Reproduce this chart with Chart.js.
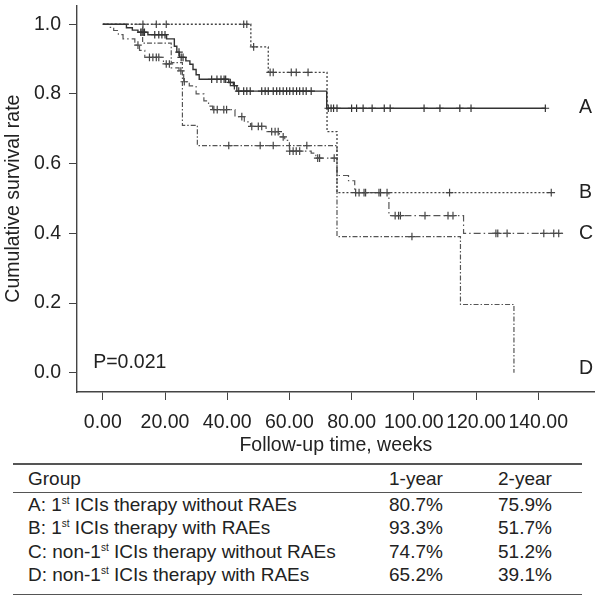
<!DOCTYPE html>
<html>
<head>
<meta charset="utf-8">
<script src="https://cdn.jsdelivr.net/npm/chart.js@4.4.0/dist/chart.umd.min.js"></script>
<style>
    body { margin: 0; background: #fff; font-family: "Liberation Sans", Arial, sans-serif; color: #222; }
    #wrap { position: relative; width: 600px; height: 609px; overflow: hidden; }
    #chartBox { position: absolute; left: 0; top: 0; width: 600px; height: 460px; }
    #survTable { position: absolute; left: 13px; top: 463px; width: 569px; border-collapse: collapse; font-size: 19px; }
    #survTable th { font-weight: normal; text-align: left; height: 27px; padding: 0; border-top: 2px solid #555; border-bottom: 1.5px solid #555; }
    #survTable td { height: 23.5px; padding: 0; }
    #survTable tr:last-child td { border-bottom: 1.5px solid #555; height: 30px; vertical-align: top; padding-top: 0; }
    #survTable .c0 { padding-left: 15px; width: 361px; }
    #survTable .c1 { width: 109px; }
    sup { font-size: 10px; vertical-align: 7px; line-height: 0; }
</style>
</head>
<body>
<div id="wrap">
    <div id="chartBox"><canvas id="kmChart"></canvas></div>
    <table id="survTable">
        <thead><tr><th class="c0">Group</th><th class="c1">1-year</th><th>2-year</th></tr></thead>
        <tbody id="survRows"></tbody>
    </table>
</div>
<script>
/* Kaplan-Meier data (weeks, survival) */
const timeA = [0, 7.6, 9.5, 11.3, 14.5, 20.5, 23, 23.8, 24.6, 26.7, 28, 29, 30, 31, 40.5, 42, 43.1, 72, 142.3];
const survA = [1, 0.99, 0.983, 0.977, 0.97, 0.958, 0.937, 0.92, 0.905, 0.895, 0.885, 0.87, 0.855, 0.842, 0.833, 0.824, 0.808, 0.759, 0.759];
const censA = [12.2, 12.6, 13, 13.4, 16.7, 18, 19, 20, 24.5, 25.2, 25.8, 35, 36.7, 38, 39, 39.5, 41, 42.3,
    43.7, 45.3, 46.3, 47.4, 51.1, 52.2, 53.2, 54.8, 55.9, 56.9, 58, 59.1, 60.1, 61.2, 62.3, 63.3, 64.4, 65.4, 67,
    72.5, 73.4, 74.2, 75.3, 80, 81.6, 83.7, 86.6, 90.5, 92.4, 103.3, 108.4, 114.8, 118.4, 142.3];

const timeB = [0, 47.6, 53.2, 72.1, 75.3, 144.2];
const survB = [1, 0.935, 0.862, 0.692, 0.517, 0.517];
const censB = [12.9, 17.2, 20.4, 45.3, 46.3, 48.5, 53.8, 54.8, 60.6, 62.2, 66, 81.3, 82.4, 84, 84.5, 88.8, 89.3, 91.4, 111.5, 144.2];

const timeC = [0, 2, 3.5, 5, 6.5, 10.3, 11.8, 13.5, 19.5, 22, 24.5, 26, 27.8, 30, 32.5, 34, 35.3, 42.5, 45.5, 47.5,
    52.5, 56.8, 58.5, 60, 67, 68.5, 75.3, 79, 81, 92, 116, 148];
const survC = [1, 0.991, 0.982, 0.97, 0.958, 0.94, 0.925, 0.905, 0.886, 0.875, 0.866, 0.835, 0.823, 0.8, 0.78, 0.765, 0.755, 0.735, 0.72, 0.707,
    0.692, 0.677, 0.667, 0.636, 0.63, 0.616, 0.566, 0.551, 0.517, 0.451, 0.4, 0.4];
const censC = [11.3, 15, 16.1, 17.2, 18, 20.4, 21.4, 25.1, 26.2, 35.7, 36.8, 38.9, 39.8, 44.7, 47.9, 50, 51.1, 54.3, 55.4, 56.4, 58,
    60.1, 61.2, 62.2, 63.3, 69.1, 69.7, 74.4, 94, 95.1, 95.7, 103.6, 111, 112.6, 126.4, 127, 130, 141.8, 145, 146.6];

const timeD = [0, 12.8, 22, 25.6, 30.4, 75.3, 115, 132.2];
const survD = [1, 0.946, 0.89, 0.71, 0.652, 0.391, 0.196, 0];
const censD = [40.5, 50.6, 54.8, 65.6, 99.4];

const xTicks = [0, 20, 40, 60, 80, 100, 120, 140];
const yTicks = [0, 0.2, 0.4, 0.6, 0.8, 1.0];

const groupNames = ['A', 'B', 'C', 'D'];
const groupLabelSurv = [0.76, 0.517, 0.4, 0.013];
const groupLabelWeek = 153.1;
const pText = 'P=0.021';

const tableGroups = ['A: 1<sup>st</sup> ICIs therapy without RAEs', 'B: 1<sup>st</sup> ICIs therapy with RAEs',
    'C: non-1<sup>st</sup> ICIs therapy without RAEs', 'D: non-1<sup>st</sup> ICIs therapy with RAEs'];
const oneYear = ['80.7%', '93.3%', '74.7%', '65.2%'];
const twoYear = ['75.9%', '51.7%', '51.2%', '39.1%'];

const FONT = '"Liberation Sans", Arial, sans-serif';
const FSIZE = 19.5;

// survival value of a step curve at time t (used to place censor marks on the curve)
function stepAt(times, surv, t) {
    let v = surv[0];
    for (let i = 0; i < times.length; i++) {
        if (times[i] <= t) v = surv[i];
    }
    return v;
}

function curveSet(times, surv, color, dash, width) {
    return {
        type: 'line',
        data: times.map((t, i) => ({ x: t, y: surv[i] })),
        stepped: 'before',
        borderColor: color,
        borderWidth: width,
        borderDash: dash,
        pointRadius: 0,
        fill: false
    };
}

function censorSet(times, surv, cens, color) {
    return {
        type: 'scatter',
        data: cens.map(t => ({ x: t, y: stepAt(times, surv, t) })),
        pointStyle: 'cross',
        pointRadius: 3.8,
        borderColor: color,
        borderWidth: 1.2,
        showLine: false
    };
}

const textPlugin = {
    id: 'kmText',
    afterDatasetsDraw(chart) {
        const { ctx, scales: { x, y } } = chart;
        ctx.save();
        ctx.font = FSIZE + 'px ' + FONT;
        ctx.fillStyle = '#222';
        ctx.textBaseline = 'middle';
        ctx.textAlign = 'left';
        groupNames.forEach((g, i) => {
            ctx.fillText(g, x.getPixelForValue(groupLabelWeek), y.getPixelForValue(groupLabelSurv[i]));
        });
        ctx.fillText(pText, x.getPixelForValue(-3.1), y.getPixelForValue(0.028));
        ctx.restore();
    }
};

function buildTable() {
    const body = document.getElementById('survRows');
    tableGroups.forEach((g, i) => {
        const row = document.createElement('tr');
        row.innerHTML = `
            <td class="c0">${g}</td>
            <td class="c1">${oneYear[i]}</td>
            <td>${twoYear[i]}</td>
        `;
        body.appendChild(row);
    });
}

function createChart() {
    const ctx = document.getElementById('kmChart').getContext('2d');
    new Chart(ctx, {
        type: 'scatter',
        data: {
            datasets: [
                curveSet(timeA, survA, '#333', [], 1.4),
                curveSet(timeB, survB, '#444', [2, 2], 1.3),
                curveSet(timeC, survC, '#555', [7, 3, 1.5, 3], 1.2),
                curveSet(timeD, survD, '#555', [5, 2, 1.5, 2], 1.2),
                censorSet(timeA, survA, censA, '#333'),
                censorSet(timeB, survB, censB, '#444'),
                censorSet(timeC, survC, censC, '#444'),
                censorSet(timeD, survD, censD, '#444')
            ]
        },
        options: {
            responsive: true,
            maintainAspectRatio: false,
            animation: false,
            layout: { padding: 0 },
            plugins: {
                legend: { display: false },
                tooltip: { enabled: false }
            },
            scales: {
                x: {
                    type: 'linear',
                    min: -8.3,
                    max: 158.2,
                    afterBuildTicks: scale => { scale.ticks = xTicks.map(v => ({ value: v })); },
                    afterFit: scale => { scale.height = 68; scale.paddingLeft = 0; scale.paddingRight = 0; },
                    grid: { drawOnChartArea: false, drawTicks: true, tickLength: 8, color: '#444' },
                    border: { display: true, color: '#444', width: 1.4 },
                    ticks: {
                        padding: 11,
                        color: '#222',
                        font: { family: FONT, size: FSIZE },
                        maxRotation: 0,
                        autoSkip: false,
                        callback: v => v.toFixed(2)
                    },
                    title: {
                        display: true,
                        text: 'Follow-up time, weeks',
                        color: '#222',
                        font: { family: FONT, size: FSIZE },
                        padding: { top: 0, bottom: 3 }
                    }
                },
                y: {
                    min: -0.055,
                    max: 1.0546,
                    afterBuildTicks: scale => { scale.ticks = yTicks.map(v => ({ value: v })); },
                    afterFit: scale => { scale.width = 77; scale.paddingTop = 0; scale.paddingBottom = 0; },
                    grid: { drawOnChartArea: false, drawTicks: true, tickLength: 8, color: '#444' },
                    border: { display: true, color: '#444', width: 1.4 },
                    ticks: {
                        padding: 8,
                        color: '#222',
                        font: { family: FONT, size: FSIZE },
                        callback: v => v.toFixed(1)
                    },
                    title: {
                        display: true,
                        text: 'Cumulative survival rate',
                        color: '#222',
                        font: { family: FONT, size: FSIZE },
                        padding: { top: 2, bottom: 0 }
                    }
                }
            }
        },
        plugins: [textPlugin]
    });
}

document.addEventListener('DOMContentLoaded', function() {
    buildTable();
    createChart();
});
</script>
</body>
</html>
